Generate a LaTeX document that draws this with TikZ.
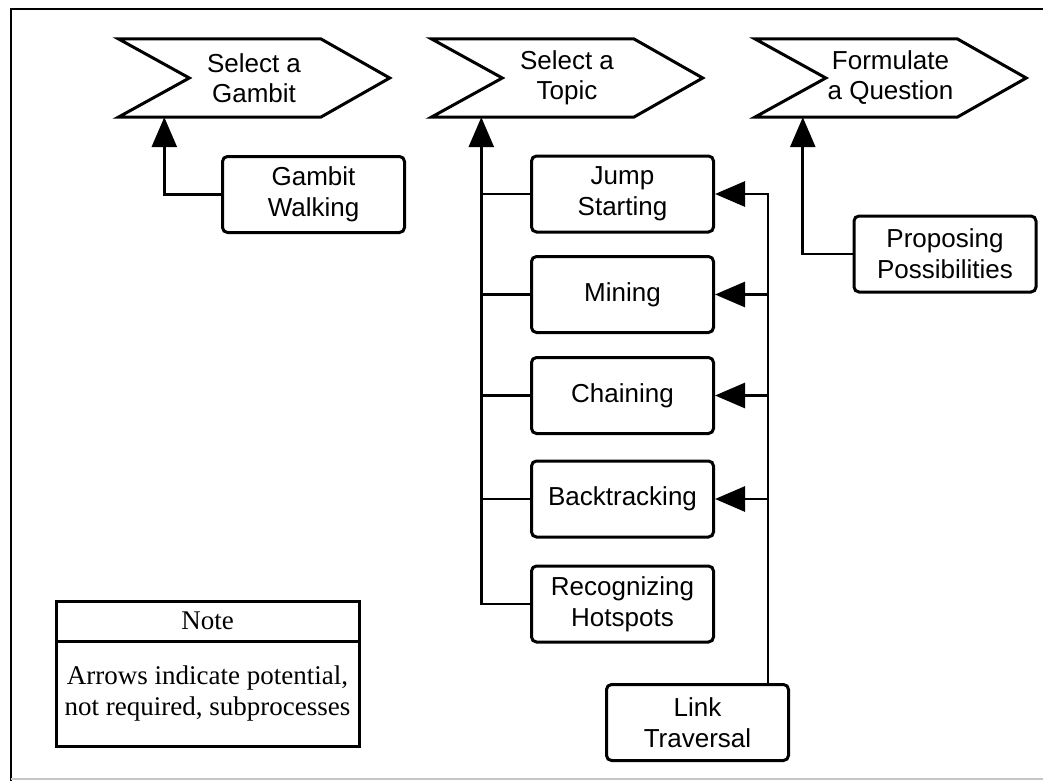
\documentclass[tikz,border=0pt]{standalone}
\usepackage{fontspec}
\setmainfont{Liberation Serif}
\newfontfamily\sansf{Liberation Sans}
\usetikzlibrary{arrows.meta}
\tikzset{
  chev/.style={minimum width=271pt, minimum height=78pt, inner sep=0pt, align=center,
    font=\sansf\fontsize{26}{30}\selectfont},
  chevline/.style={line width=3pt, line join=miter},
  procbox/.style={draw, rounded corners=5pt, line width=3pt, minimum width=182pt,
    minimum height=76pt, inner sep=0pt, align=center, font=\sansf\fontsize{26}{31}\selectfont},
  notebox/.style={draw, line width=3pt, minimum width=303pt, inner sep=0pt, outer sep=0pt,
    align=center, font=\fontsize{27}{31}\selectfont},
  conn/.style={line width=2.8pt, line join=miter},
  arr/.style={conn, -{Triangle[length=30pt,width=25pt]}},
  frameline/.style={line width=2.6pt},
}
\begin{document}
\begin{tikzpicture}[x=1pt, y=-1pt]
\useasboundingbox (0,0) rectangle (1043,781);
% frame
\coordinate (f1) at (1043,9);
\coordinate (f2) at (11,9);
\coordinate (f3) at (11,781);
\draw[frameline] (f1) -- (f2) -- (f3);
\coordinate (b1) at (11,779);
\coordinate (b2) at (1043,779);
\draw[gray!45, line width=1.2pt] (b1) -- (b2);

% chevrons
\node[chev] (g) at (254,78) {Select a\\Gambit};
\node[chev] (t) at (567,78) {Select a\\Topic};
\node[chev] (q) at (890.5,78) {Formulate\\a Question};
\foreach \n in {g,t,q}{
  \draw[chevline] (\n.north west) -- ([xshift=-69pt]\n.north east) -- (\n.east)
    -- ([xshift=-69pt]\n.south east) -- (\n.south west) -- ([xshift=71pt]\n.west) -- cycle;
}

% boxes
\node[procbox] (gw) at (313.5,194.5) {Gambit\\Walking};
\node[procbox] (js) at (622.5,194) {Jump\\Starting};
\node[procbox] (mi) at (622.5,294.5) {Mining};
\node[procbox] (ch) at (622.5,395.5) {Chaining};
\node[procbox] (bt) at (622.5,499) {Backtracking};
\node[procbox] (rh) at (622.5,604) {Recognizing\\Hotspots};
\node[procbox] (lt) at (697.5,722.5) {Link\\Traversal};
\node[procbox] (pp) at (945,254) {Proposing\\Possibilities};

% note
\node[notebox, minimum height=40pt] (nh) at (207.5,621) {Note};
\node[notebox, minimum height=105pt, anchor=north] (nb) at (nh.south) {Arrows indicate potential,\\not required, subprocesses};

% connectors
\coordinate (ga) at ([xshift=46pt]g.south west);
\coordinate (ta) at ([xshift=50pt]t.south west);
\coordinate (qa) at ([xshift=48pt]q.south west);
\coordinate (lc) at ([xshift=-22pt]lt.north east);

\draw[arr] (gw.west) -| (ga);
\draw[arr] (rh.west) -| (ta);
\draw[conn] (js.west) -- (js.west -| ta);
\draw[conn] (mi.west) -- (mi.west -| ta);
\draw[conn] (ch.west) -- (ch.west -| ta);
\draw[conn] (bt.west) -- (bt.west -| ta);
\draw[arr] (lc) |- (js.east);
\draw[arr] (mi.east -| lc) -- (mi.east);
\draw[arr] (ch.east -| lc) -- (ch.east);
\draw[arr] (bt.east -| lc) -- (bt.east);
\draw[arr] (pp.west) -| (qa);
\end{tikzpicture}
\end{document}
